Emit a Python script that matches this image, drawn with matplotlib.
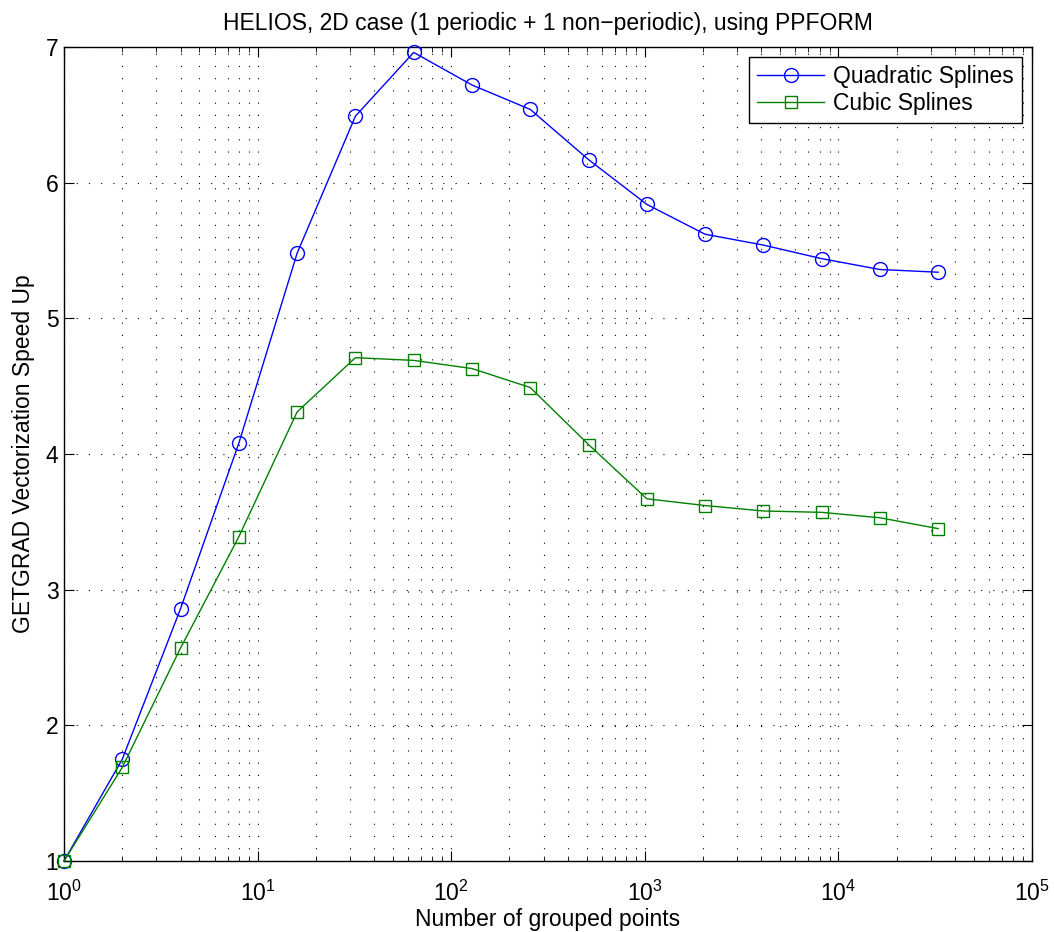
import matplotlib
matplotlib.use("Agg")
import matplotlib.pyplot as plt
import numpy as np

plt.rcParams['font.family'] = ['Liberation Sans', 'DejaVu Sans']
plt.rcParams['mathtext.fontset'] = 'custom'
plt.rcParams['mathtext.rm'] = 'Liberation Sans'
plt.rcParams['mathtext.it'] = 'Liberation Sans'
plt.rcParams['mathtext.bf'] = 'Liberation Sans'

grouped_points = [2**k for k in range(16)]
quadratic = [1.00, 1.75, 2.86, 4.08, 5.48, 6.49, 6.96, 6.72, 6.54, 6.17, 5.84, 5.62, 5.54, 5.44, 5.36, 5.34]
cubic = [1.00, 1.69, 2.57, 3.39, 4.31, 4.71, 4.69, 4.63, 4.49, 4.07, 3.67, 3.62, 3.58, 3.57, 3.53, 3.45]

fig = plt.figure(figsize=(10.54, 9.32), dpi=100)
ax = fig.add_axes([64/1054, 1-861/932, (1032-64)/1054, (861-47)/932])

ax.plot(grouped_points, quadratic, color='#0000ff', lw=1.0, marker='o', ms=10,
        mfc='none', mec='#0000ff', mew=1.0, label='Quadratic Splines', clip_on=False, zorder=3)
ax.plot(grouped_points, cubic, color='#008000', lw=1.0, marker='s', ms=8.5,
        mfc='none', mec='#008000', mew=1.0, label='Cubic Splines', clip_on=False, zorder=3)

ax.set_xscale('log')
ax.set_xlim(1, 1e5)
ax.set_ylim(1, 7)
ax.set_yticks([1, 2, 3, 4, 5, 6, 7])
ax.grid(True, which='major', color='k', linestyle=(0, (1, 10)), lw=0.8)
ax.grid(True, which='minor', axis='x', color='k', linestyle=(0, (1, 10)), lw=0.8)
ax.tick_params(which='both', direction='in', top=True, right=True, labelsize=16.5)
ax.tick_params(which='major', length=7)
ax.tick_params(which='minor', length=3.5)
ax.tick_params(axis='x', which='both', pad=14)
ax.tick_params(axis='y', which='both', pad=4)
for s in ax.spines.values():
    s.set_linewidth(1.0)

ax.set_title('HELIOS, 2D case (1 periodic + 1 non\u2212periodic), using PPFORM', fontsize=16.5, pad=12)
ax.set_xlabel('Number of grouped points', fontsize=16.5, labelpad=2)
ax.set_ylabel('GETGRAD Vectorization Speed Up', fontsize=16.5, labelpad=8)

leg = ax.legend(loc='upper right', fontsize=16.5, fancybox=False, edgecolor='k',
                framealpha=1, borderaxespad=0.45, handlelength=2.9, handletextpad=0.4,
                labelspacing=0.15, borderpad=0.35)
leg.get_frame().set_linewidth(1.0)
leg.set_zorder(5)

fig.savefig('out.png', dpi=100)
